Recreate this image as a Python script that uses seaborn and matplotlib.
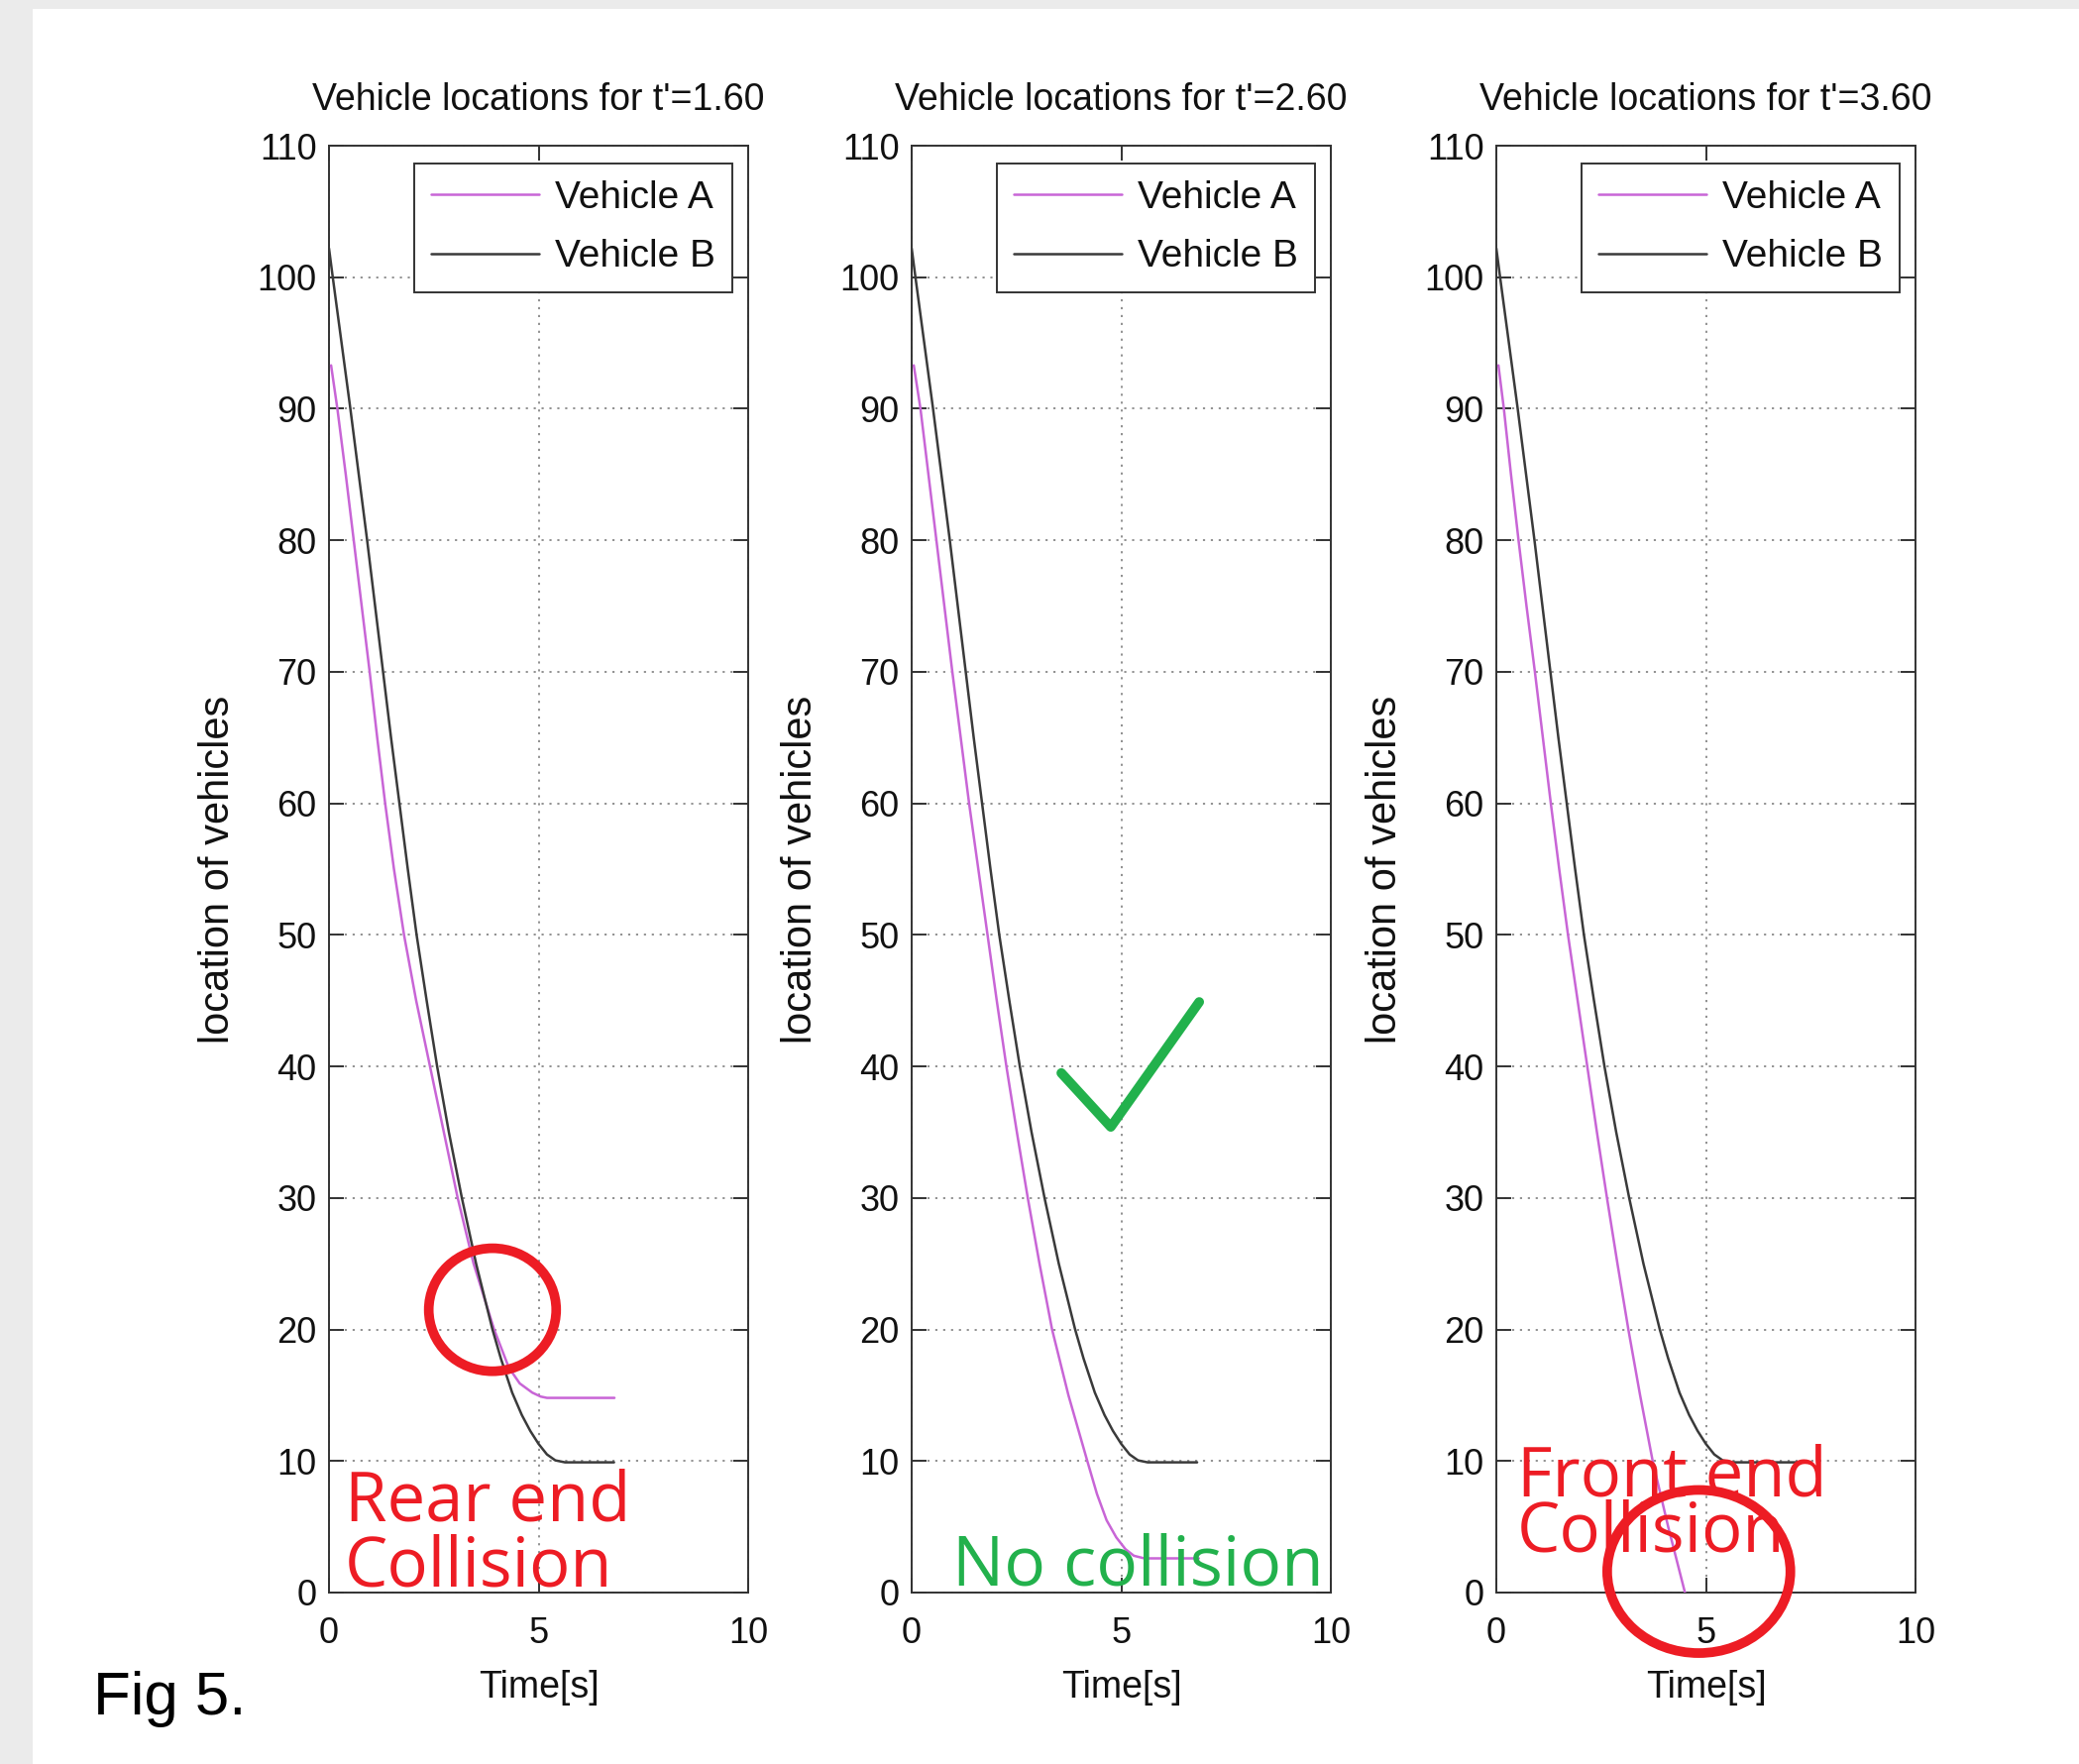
import numpy as np
import pandas as pd
import matplotlib
matplotlib.use("Agg")
import matplotlib.pyplot as plt
from matplotlib.patches import Ellipse, Rectangle
import seaborn as sns

# ---------------- data ----------------
titles = ["Vehicle locations for t'=1.60",
          "Vehicle locations for t'=2.60",
          "Vehicle locations for t'=3.60"]
series_names = ["Vehicle A", "Vehicle B"]

# panel 1 (t'=1.60)
p1_a_t = [0.05, 0.20, 0.40, 0.59, 0.78, 0.97, 1.15, 1.34, 1.55, 1.79, 2.08, 2.41, 2.74, 3.07,
          3.45, 3.94, 4.29, 4.55, 4.85, 5.05, 5.20, 6.81]
p1_a_y = [93.3, 90.0, 85.0, 80.0, 75.0, 70.0, 65.0, 60.0, 55.0, 50.0, 45.0, 40.0, 35.0, 30.0,
          25.0, 20.0, 17.1, 15.9, 15.2, 14.9, 14.8, 14.8]
p1_b_t = [0.0, 0.09, 0.30, 0.51, 0.71, 0.91, 1.10, 1.29, 1.48, 1.68, 1.88, 2.09, 2.33, 2.58,
          2.86, 3.17, 3.51, 3.90, 4.10, 4.37, 4.60, 4.80, 5.00, 5.20, 5.40, 5.63, 6.80]
p1_b_y = [102.2, 100.0, 95.0, 90.0, 85.0, 80.0, 75.0, 70.0, 65.0, 60.0, 55.0, 50.0, 45.0, 40.0,
          35.0, 30.0, 25.0, 20.0, 17.8, 15.2, 13.5, 12.3, 11.3, 10.5, 10.05, 9.9, 9.9]

# panel 2 (t'=2.60)
p2_a_t = [0.05, 0.21, 0.40, 0.59, 0.78, 0.97, 1.17, 1.37, 1.59, 1.81, 2.03, 2.26, 2.51, 2.77,
          3.05, 3.35, 3.74, 4.19, 4.42, 4.65, 4.88, 5.10, 5.30, 5.55, 6.85]
p2_a_y = [93.3, 90.0, 85.0, 80.0, 75.0, 70.0, 65.0, 60.0, 55.0, 50.0, 45.0, 40.0, 35.0, 30.0,
          25.0, 20.0, 15.0, 10.0, 7.5, 5.5, 4.2, 3.3, 2.8, 2.6, 2.6]
p2_b_t = [0.0, 0.09, 0.30, 0.51, 0.71, 0.91, 1.10, 1.29, 1.48, 1.68, 1.88, 2.09, 2.33, 2.58,
          2.86, 3.17, 3.51, 3.90, 4.10, 4.37, 4.60, 4.80, 5.00, 5.20, 5.40, 5.63, 6.81]
p2_b_y = [102.2, 100.0, 95.0, 90.0, 85.0, 80.0, 75.0, 70.0, 65.0, 60.0, 55.0, 50.0, 45.0, 40.0,
          35.0, 30.0, 25.0, 20.0, 17.8, 15.2, 13.5, 12.3, 11.3, 10.5, 10.05, 9.9, 9.9]

# panel 3 (t'=3.60)
p3_a_t = [0.05, 0.18, 0.35, 0.53, 0.72, 0.92, 1.11, 1.30, 1.50, 1.71, 1.94, 2.17, 2.40, 2.64,
          2.89, 3.15, 3.43, 3.73, 4.10, 4.50]
p3_a_y = [93.3, 90.0, 85.0, 80.0, 75.0, 70.0, 65.0, 60.0, 55.0, 50.0, 45.0, 40.0, 35.0, 30.0,
          25.0, 20.0, 15.0, 10.0, 5.0, 0.0]
p3_b_t = [0.0, 0.09, 0.30, 0.51, 0.71, 0.91, 1.10, 1.29, 1.48, 1.68, 1.88, 2.09, 2.33, 2.58,
          2.86, 3.17, 3.51, 3.90, 4.10, 4.37, 4.60, 4.80, 5.00, 5.20, 5.40, 5.63, 7.30]
p3_b_y = [102.2, 100.0, 95.0, 90.0, 85.0, 80.0, 75.0, 70.0, 65.0, 60.0, 55.0, 50.0, 45.0, 40.0,
          35.0, 30.0, 25.0, 20.0, 17.8, 15.2, 13.5, 12.3, 11.3, 10.5, 10.05, 9.9, 9.9]

x_ticks = [0, 5, 10]
y_ticks = list(range(0, 111, 10))

# hand-drawn annotation marks in the figure
circle1 = dict(center=(3.9, 21.5), width=3.04, height=9.35)
circle3 = dict(center=(4.83, 1.6), width=4.37, height=12.4)
check_t = [3.57, 4.75, 6.86]
check_y = [39.5, 35.4, 44.9]

# ---------------- style ----------------
sns.set_theme(style="white")
plt.rcParams["font.family"] = ["Liberation Sans", "DejaVu Sans"]
FRAME = "#333333"
COL_A = "#c865d6"
COL_B = "#3a3a3a"
RED = "#ed1c24"
GREEN = "#22b14c"
FS = 26

fig = plt.figure(figsize=(20.98, 17.8), dpi=100)
fig.patch.set_facecolor("#ebebeb")
fig.add_artist(Rectangle((33 / 2098, 0), 1, 1 - 9 / 1780, transform=fig.transFigure,
                         facecolor="white", edgecolor="none", zorder=-10))

lefts = [332 / 2098, 920 / 2098, 1510 / 2098]
width = 423 / 2098
bottom = 1 - 1607 / 1780
height = 1460 / 1780

panels = [(p1_a_t, p1_a_y, p1_b_t, p1_b_y),
          (p2_a_t, p2_a_y, p2_b_t, p2_b_y),
          (p3_a_t, p3_a_y, p3_b_t, p3_b_y)]

axes = []
for i, (at, ay, bt, by) in enumerate(panels):
    ax = fig.add_axes([lefts[i], bottom, width, height])
    axes.append(ax)
    df = pd.concat([
        pd.DataFrame({"t": at, "pos": ay, "vehicle": series_names[0]}),
        pd.DataFrame({"t": bt, "pos": by, "vehicle": series_names[1]}),
    ], ignore_index=True)
    sns.lineplot(data=df, x="t", y="pos", hue="vehicle",
                 palette={series_names[0]: COL_A, series_names[1]: COL_B},
                 estimator=None, sort=False, legend=False, lw=1.8, ax=ax, zorder=3)
    ax.set_xlim(0, 10)
    ax.set_ylim(0, 110)
    ax.set_xticks(x_ticks)
    ax.set_yticks(y_ticks)
    ax.set_xticklabels([str(v) for v in x_ticks], fontsize=FS, color="#111111")
    ax.set_yticklabels([str(v) for v in y_ticks], fontsize=FS, color="#111111")
    ax.tick_params(direction="in", length=11, width=1.4, color=FRAME,
                   top=True, right=True, bottom=True, left=True)
    ax.tick_params(axis="y", pad=9)
    ax.tick_params(axis="x", pad=17)
    for s in ax.spines.values():
        s.set_visible(True)
        s.set_color(FRAME)
        s.set_linewidth(1.4)
    ax.grid(True, linestyle=(0, (1.2, 3.2)), color="#888888", linewidth=1.3, zorder=0)
    ax.set_axisbelow(True)
    ax.set_title(titles[i], fontsize=27, pad=26, color="#111111")
    ax.set_xlabel("Time[s]", fontsize=27, labelpad=14, color="#111111")
    ax.set_ylabel("location of vehicles", fontsize=30, labelpad=14, color="#111111")
    leg = ax.legend(ax.lines[:2], series_names, loc="upper right",
                    bbox_to_anchor=(0.962, 0.988), fontsize=28,
                    handlelength=2.8, handletextpad=0.4, borderpad=0.45,
                    labelspacing=0.6, fancybox=False, framealpha=1,
                    borderaxespad=0)
    leg.get_frame().set_edgecolor(FRAME)
    leg.get_frame().set_linewidth(1.4)
    for txt in leg.get_texts():
        txt.set_color("#111111")

ann_font = ["Open Sans", "DejaVu Sans"]
ANN = 49.5

# panel 1 annotations (va='baseline' anchors the last line)
ax = axes[0]
ax.add_patch(Ellipse(circle1["center"], circle1["width"], circle1["height"],
                     fill=False, edgecolor=RED, lw=7, clip_on=False, zorder=5))
ax.text(0.37, 0.5, "Rear end\nCollision", color=RED, fontsize=ANN, family=ann_font,
        va="baseline", ha="left", linespacing=0.92, zorder=6)

# panel 2 annotations
ax = axes[1]
ax.plot(check_t, check_y, color=GREEN, lw=7, solid_capstyle="round",
        solid_joinstyle="round", zorder=5)
ax.text(0.98, 0.55, "No collision", color=GREEN, fontsize=ANN + 0.5, family=ann_font,
        va="baseline", zorder=6, clip_on=False)

# panel 3 annotations
ax = axes[2]
ax.text(0.5, 3.1, "Front end\nCollision", color=RED, fontsize=ANN, family=ann_font,
        va="baseline", ha="left", linespacing=0.74, zorder=6)
ax.add_patch(Ellipse(circle3["center"], circle3["width"], circle3["height"],
                     fill=False, edgecolor=RED, lw=7, clip_on=False, zorder=7))

fig.text(94 / 2098, 1 - 1730 / 1780, "Fig 5.", fontsize=44.5, color="black",
         ha="left", va="baseline")

fig.savefig("out.png", dpi=100, facecolor=fig.get_facecolor())
